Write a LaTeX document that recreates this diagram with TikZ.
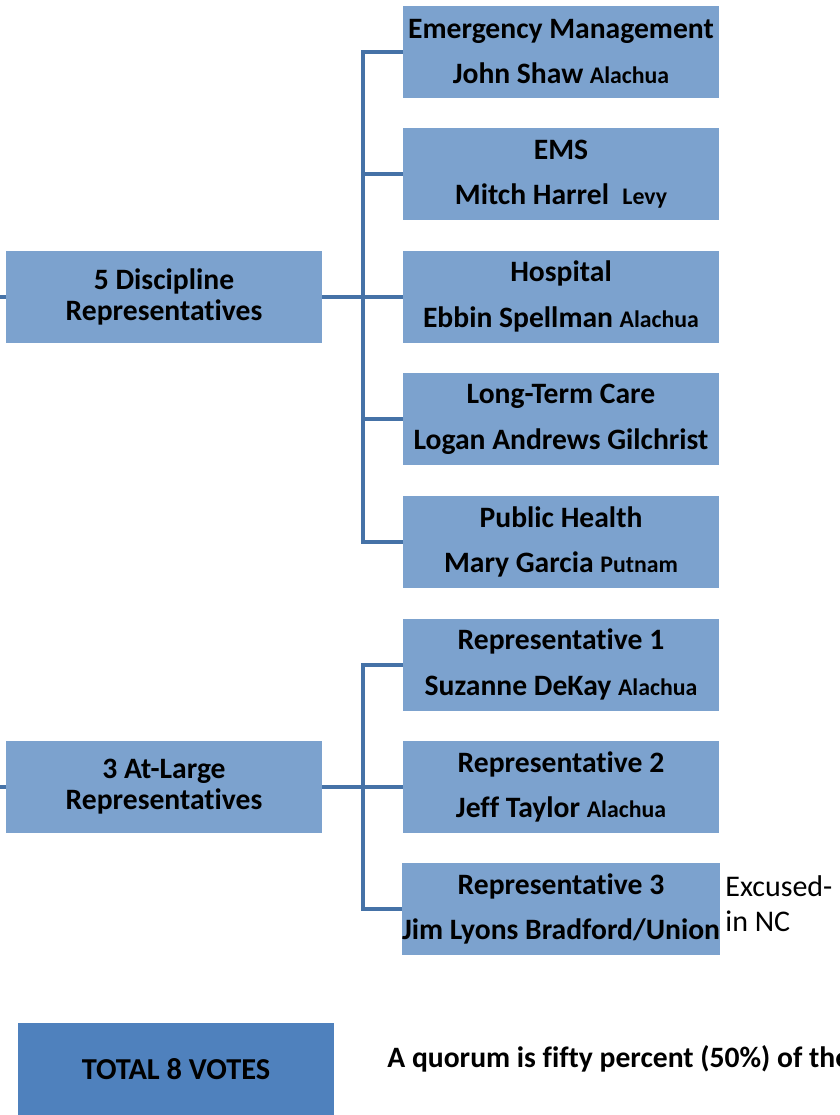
\documentclass[tikz,border=0pt]{standalone}
\usepackage{fontspec}
\setmainfont{Carlito}[Ligatures=NoCommon]

\definecolor{boxblue}{RGB}{124,162,206}
\definecolor{totalblue}{RGB}{79,129,189}
\definecolor{lineblue}{RGB}{69,114,167}

\newcommand\countytext[1]{{\fontsize{11.9}{13}\selectfont #1}}

\tikzset{
  rbox/.style={rectangle,fill=boxblue,minimum width=158pt,minimum height=46pt,
    inner sep=0pt,align=center,font=\bfseries\fontsize{14.8}{22.8}\selectfont},
  lbox/.style={rbox,font=\bfseries\fontsize{14.8}{15.5}\selectfont},
  conn/.style={draw=lineblue,line width=2pt}
}

\begin{document}
\begin{tikzpicture}[x=0.5pt,y=-0.5pt]
  \useasboundingbox (0,0) rectangle (840,1115);
  \clip (0,0) rectangle (840,1115);

  % discipline representatives
  \node[lbox] (disc) at (164,296.5) {5 Discipline\\Representatives};
  \node[rbox] (em) at (561,51.5) {Emergency Management\\John Shaw \countytext{Alachua}};
  \node[rbox] (ems) at (561,174) {EMS\\Mitch Harrel \ \countytext{Levy}};
  \node[rbox] (hosp) at (561,296.5) {Hospital\\Ebbin Spellman \countytext{Alachua}};
  \node[rbox] (ltc) at (561,419) {Long-Term Care\\Logan Andrews Gilchrist};
  \node[rbox] (ph) at (561,542) {Public Health\\Mary Garcia \countytext{Putnam}};

  % at-large representatives
  \node[lbox] (atl) at (164,787) {3 At-Large\\Representatives};
  \node[rbox] (rep1) at (561,664.5) {Representative 1\\Suzanne DeKay \countytext{Alachua}};
  \node[rbox] (rep2) at (561,787) {Representative 2\\Jeff Taylor \countytext{Alachua}};
  \node[rbox] (rep3) at (561,909) {Representative 3\\Jim Lyons Bradford/Union};
  \node[anchor=west,align=left,inner sep=0pt,font=\fontsize{15}{17.5}\selectfont]
    (note) at (725,904) {Excused-\\in NC};

  \node[rbox,fill=totalblue,font=\bfseries\fontsize{15.2}{18}\selectfont] (total) at (176,1069) {TOTAL 8 VOTES};
  \node[anchor=base west,inner sep=0pt,font=\bfseries\fontsize{14.8}{17}\selectfont]
    (quorum) at (387,1067) {A quorum is fifty percent (50\%) of the};

  \coordinate (t1) at (363,0);
  \coordinate (inA) at (0,296.5);
  \coordinate (inB) at (0,787);

  \draw[conn] (inA) -- (disc.west);
  \draw[conn] (disc.east) -- (disc.east -| t1);
  \draw[conn] (em.west) -| (t1 |- ph.west) -- (ph.west);
  \foreach \n in {ems,hosp,ltc}
    \draw[conn] (\n.west) -- (\n.west -| t1);

  \draw[conn] (inB) -- (atl.west);
  \draw[conn] (atl.east) -- (atl.east -| t1);
  \draw[conn] (rep1.west) -| (t1 |- rep3.west) -- (rep3.west);
  \draw[conn] (rep2.west) -- (rep2.west -| t1);
\end{tikzpicture}
\end{document}
